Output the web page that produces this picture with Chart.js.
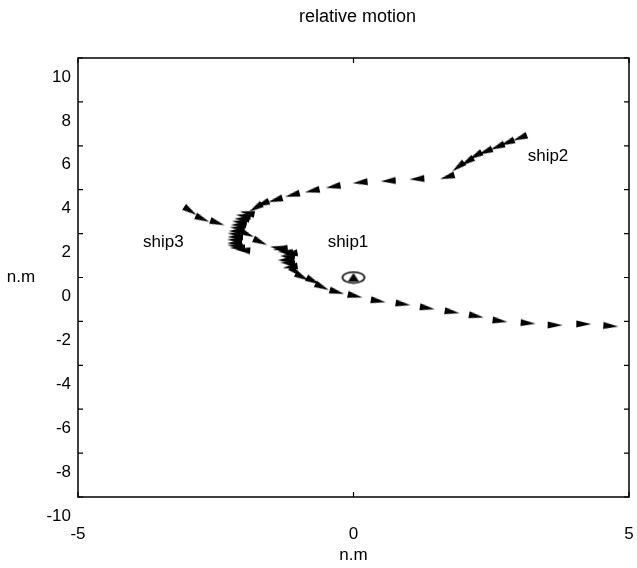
<!DOCTYPE html>
<html>
<head>
<meta charset="utf-8">
<script src="https://cdn.jsdelivr.net/npm/chart.js@4.4.0/dist/chart.umd.min.js"></script>
<style>
  body { margin: 0; background: #fff; }
  #wrap { width: 637px; height: 568px; }
</style>
</head>
<body>
<div id="wrap"><canvas id="myChart" width="637" height="568"></canvas></div>
<script>
// relative track of ship2 (x, y in n.m), listed from the turn back to the start
var ship2X = [-2.01, -2.11, -2.15, -2.16, -2.16, -2.15, -2.15, -2.13, -2.11, -2.09, -2.07, -2.03, -2.00, -1.93, -1.78, -1.66, -1.42, -1.11, -0.75, -0.37, 0.12, 0.63, 1.15, 1.70, 1.90, 2.06, 2.21, 2.39, 2.61, 2.79, 3.02];
var ship2Y = [1.25, 1.35, 1.44, 1.57, 1.71, 1.85, 1.98, 2.12, 2.26, 2.40, 2.53, 2.67, 2.81, 2.94, 3.17, 3.35, 3.53, 3.76, 3.95, 4.14, 4.33, 4.40, 4.49, 4.58, 5.04, 5.27, 5.54, 5.73, 5.95, 6.14, 6.36];
// heading in degrees where the ship turns (null = along its track)
var ship2Course = [185, 180, 186, 178, 184, 180, 186, 179, 184, 180, 186, 182, 188, 192, null, null, null, null, null, null, null, null, null, null, null, null, null, null, null, null, null];

// relative track of ship3
var ship3X = [-2.96, -2.74, -2.47, -1.93, -1.69, -1.38, -1.33, -1.24, -1.15, -1.20, -1.24, -1.20, -1.15, -1.04, -0.93, -0.73, -0.57, -0.30, 0.03, 0.45, 0.90, 1.34, 1.79, 2.23, 2.66, 3.17, 3.66, 4.18, 4.67];
var ship3Y = [3.03, 2.67, 2.49, 1.98, 1.62, 1.35, 1.30, 1.16, 1.07, 0.94, 0.80, 0.66, 0.48, 0.25, 0.02, -0.16, -0.43, -0.66, -0.84, -1.07, -1.21, -1.39, -1.57, -1.76, -1.98, -2.08, -2.17, -2.12, -2.21];
var ship3Course = [null, null, null, null, null, 190, 175, 185, 170, 190, 178, 186, 172, null, null, null, null, null, null, null, null, null, null, null, null, null, null, null, null];

// own ship at origin
var ship1X = [0];
var ship1Y = [0];

var shipNames = ['ship1', 'ship2', 'ship3'];
var nameX = [-0.1, 3.53, -3.45];
var nameY = [1.62, 5.5, 1.62];

var xTicks = [-5, 0, 5];
var yTicks = [-10, -8, -6, -4, -2, 0, 2, 4, 6, 8, 10];

var FONT = '"Liberation Sans", Arial, sans-serif';

function toPoints(xs, ys) {
  return xs.map(function (x, i) { return { x: x, y: ys[i] }; });
}

// arrow-head marker
var arrow = document.createElement('canvas');
arrow.width = 15; arrow.height = 8;
var a = arrow.getContext('2d');
a.fillStyle = '#000';
a.beginPath();
a.moveTo(0, 0.5); a.lineTo(15, 4); a.lineTo(0, 7.5);
a.closePath();
a.fill();

// own ship marker
var own = document.createElement('canvas');
own.width = 26; own.height = 14;
var o = own.getContext('2d');
o.strokeStyle = '#000';
o.lineWidth = 1.6;
o.beginPath();
o.ellipse(13, 7, 11, 5.5, 0, 0, Math.PI * 2);
o.stroke();
o.fillStyle = '#000';
o.beginPath();
o.moveTo(13, 2.5); o.lineTo(7.5, 11); o.lineTo(18.5, 11);
o.closePath();
o.fill();

function heading(ctx) {
  var ds = ctx.dataset, d = ds.data, i = ctx.dataIndex;
  if (ds.course && ds.course[i] != null) return ds.course[i];
  var sx = ctx.chart.scales.x, sy = ctx.chart.scales.y;
  if (!d || d.length < 2 || !sx || !sy) return 0;
  var p = d[Math.max(i - 1, 0)], n = d[Math.min(i + 1, d.length - 1)];
  var dx = sx.getPixelForValue(n.x) - sx.getPixelForValue(p.x);
  var dy = sy.getPixelForValue(n.y) - sy.getPixelForValue(p.y);
  var ang = Math.atan2(dy, dx) * 180 / Math.PI;
  return ds.reverse ? ang + 180 : ang;
}

var decor = {
  id: 'decor',
  afterDraw: function (chart) {
    var c = chart.ctx, ar = chart.chartArea;
    var sx = chart.scales.x, sy = chart.scales.y;
    c.save();
    c.strokeStyle = '#000';
    c.lineWidth = 1.5;
    c.strokeRect(ar.left, ar.top, ar.right - ar.left, ar.bottom - ar.top);
    c.lineWidth = 1.2;
    c.beginPath();
    yTicks.forEach(function (v) {
      var y = sy.getPixelForValue(v);
      c.moveTo(ar.left, y); c.lineTo(ar.left + 5, y);
      c.moveTo(ar.right, y); c.lineTo(ar.right - 5, y);
    });
    xTicks.forEach(function (v) {
      var x = sx.getPixelForValue(v);
      c.moveTo(x, ar.bottom); c.lineTo(x, ar.bottom - 5);
      c.moveTo(x, ar.top); c.lineTo(x, ar.top + 5);
    });
    c.stroke();
    c.fillStyle = '#000';
    c.textAlign = 'center';
    c.textBaseline = 'middle';
    c.font = '18px ' + FONT;
    c.fillText('relative motion', (ar.left + ar.right) / 2 + 4, 17);
    c.font = '17px ' + FONT;
    shipNames.forEach(function (s, i) {
      c.fillText(s, sx.getPixelForValue(nameX[i]), sy.getPixelForValue(nameY[i]));
    });
    c.fillText('n.m', (ar.left + ar.right) / 2, 555);
    c.fillText('n.m', 21, 277);
    c.restore();
  }
};

var ctx = document.getElementById('myChart').getContext('2d');
var myChart = new Chart(ctx, {
  type: 'scatter',
  data: {
    datasets: [{
      label: 'ship2',
      data: toPoints(ship2X, ship2Y),
      course: ship2Course,
      reverse: true,
      pointStyle: arrow,
      rotation: heading
    }, {
      label: 'ship3',
      data: toPoints(ship3X, ship3Y),
      course: ship3Course,
      pointStyle: arrow,
      rotation: heading
    }, {
      label: 'ship1',
      data: toPoints(ship1X, ship1Y),
      pointStyle: own
    }]
  },
  options: {
    responsive: false,
    animation: false,
    events: [],
    layout: { padding: { top: 58, right: 8 } },
    plugins: {
      legend: { display: false },
      tooltip: { enabled: false },
      title: { display: false }
    },
    scales: {
      x: {
        type: 'linear',
        min: -5, max: 5,
        afterBuildTicks: function (s) { s.ticks = xTicks.map(function (v) { return { value: v }; }); },
        afterFit: function (s) { s.height = 71; s.paddingLeft = 0; s.paddingRight = 0; },
        grid: { display: false, drawTicks: false },
        border: { display: false },
        ticks: {
          color: '#000',
          padding: 27,
          maxRotation: 0,
          font: { family: FONT, size: 17 }
        }
      },
      y: {
        type: 'linear',
        min: -10, max: 10,
        afterBuildTicks: function (s) { s.ticks = yTicks.map(function (v) { return { value: v }; }); },
        afterFit: function (s) { s.width = 78; s.paddingTop = 0; s.paddingBottom = 0; },
        grid: { display: false, drawTicks: false },
        border: { display: false },
        ticks: {
          color: '#000',
          padding: 7,
          labelOffset: 19,
          font: { family: FONT, size: 17 }
        }
      }
    }
  },
  plugins: [decor]
});
</script>
</body>
</html>
